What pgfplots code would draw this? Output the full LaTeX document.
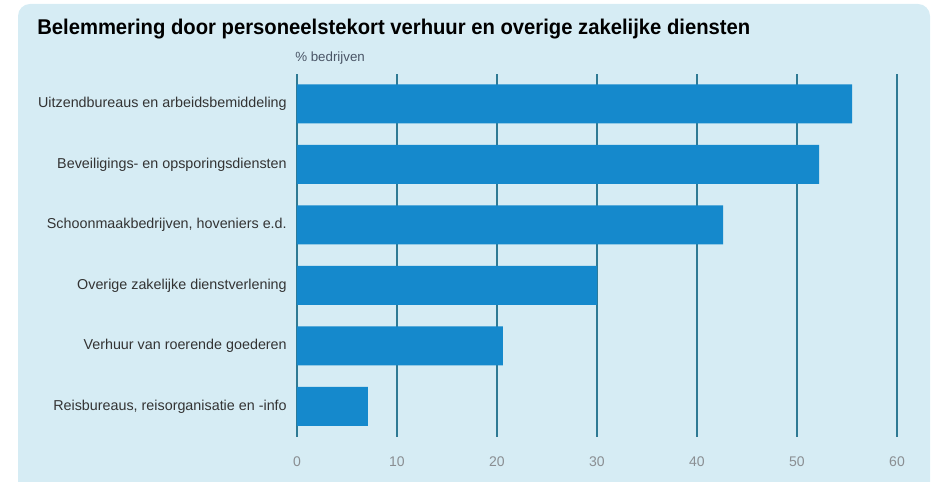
\documentclass[border=0pt]{standalone}
\usepackage{pgfplots}
\pgfplotsset{compat=1.18}
\usepackage{graphicx}
\usepackage{fontspec}
\setmainfont{Liberation Sans}
\definecolor{bgc}{HTML}{D6ECF4}
\definecolor{barc}{HTML}{1589CC}
\definecolor{gridc}{HTML}{2F7A94}
\definecolor{labc}{HTML}{333333}
\definecolor{tickc}{HTML}{8A8E92}
\definecolor{unitc}{HTML}{4A5566}
\begin{document}
\begin{tikzpicture}[x=0.75pt,y=0.75pt]
\useasboundingbox (0,0) rectangle (933,482);
\fill[bgc, rounded corners=9pt] (18,-20) rectangle (930,478);
\node[anchor=base west, inner sep=0pt] at (37,447) {\resizebox{713\dimexpr0.75pt\relax}{\height}{\fontsize{16}{19}\selectfont\bfseries Belemmering door personeelstekort verhuur en overige zakelijke diensten}};
\node[anchor=base west, inner sep=0pt, text=unitc] at (295,420) {\fontsize{10}{12}\selectfont \% bedrijven};
\begin{axis}[
  at={(297,75)}, anchor=south west,
  scale only axis, width=450pt, height=272.25pt,
  xmin=0, xmax=60, ymin=-0.5, ymax=5.5,
  xbar, bar width=29.25pt,
  xtick={0,10,...,60},
  ytick={0,...,5},
  yticklabels={{Reisbureaus, reisorganisatie en -info}, {Verhuur van roerende goederen}, {Overige zakelijke dienstverlening}, {Schoonmaakbedrijven, hoveniers e.d.}, {Beveiligings- en opsporingsdiensten}, {Uitzendbureaus en arbeidsbemiddeling}},
  axis line style={draw=none},
  major tick length=0pt,
  xmajorgrids, grid style={gridc, line width=1.5pt},
  xticklabel style={font=\fontsize{10.5}{12}\selectfont, text=tickc, anchor=center, yshift=-18.75pt},
  yticklabel style={font=\fontsize{10.75}{12}\selectfont, text=labc, anchor=east, inner sep=0pt, xshift=-7.5pt},
  /pgf/number format/assume math mode=true,
]
\addplot[fill=barc, draw=none] coordinates {(7.1,0) (20.6,1) (30.0,2) (42.6,3) (52.2,4) (55.5,5)};
\end{axis}
\end{tikzpicture}
\end{document}
